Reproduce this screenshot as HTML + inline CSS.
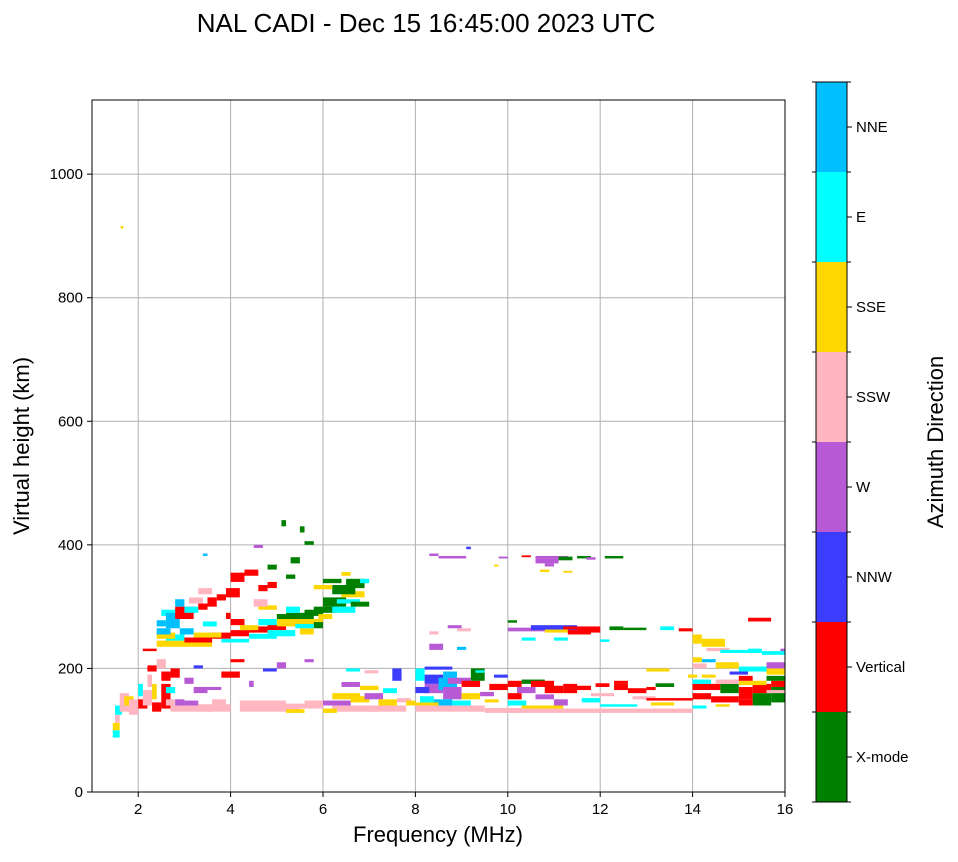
<!DOCTYPE html>
<html><head><meta charset="utf-8">
<style>
body{margin:0;background:#fff;font-family:"Liberation Sans",sans-serif;}
svg text{font-family:"Liberation Sans","DejaVu Sans",sans-serif;}
</style></head>
<body>
<svg id="chart" width="958" height="857" xmlns="http://www.w3.org/2000/svg">
<rect width="958" height="857" fill="#fff"/>
<text x="426" y="32" font-size="26" text-anchor="middle">NAL CADI - Dec 15 16:45:00 2023 UTC</text>
<g id="grid"></g>
<g id="marks"></g>
<rect x="92" y="100" width="693" height="692" fill="none" stroke="#000" stroke-width="1"/>
<g id="ticks"></g>
<text x="438" y="842" font-size="22" text-anchor="middle">Frequency (MHz)</text>
<text transform="translate(29,446) rotate(-90)" font-size="22" text-anchor="middle">Virtual height (km)</text>
<g id="cbar"></g>
<text transform="translate(943,442) rotate(-90)" font-size="22" text-anchor="middle">Azimuth Direction</text>
</svg>
<script>
const dirNames=["X-mode","Vertical","NNW","W","SSW","SSE","E","NNE"];
const dirColors=["#008000","#ff0000","#3c3cff","#b85ad6","#ffb6c1","#ffd700","#00ffff","#00bfff"];
const xTicks=[2,4,6,8,10,12,14,16];
const yTicks=[0,200,400,600,800,1000];
// echoes: [freqStart, freqEnd, heightLow, heightHigh, directionIndex]
const echoes=[
[1.45,1.6,88,100,6],[1.45,1.6,100,112,5],[1.5,1.6,112,125,4],[1.5,1.65,125,140,6],[1.6,1.8,130,160,4],[1.7,1.9,140,155,5],[1.8,2.0,125,150,4],[2.0,2.2,135,150,1],[2.1,2.3,140,165,4],[2.3,2.5,130,145,1],[2.3,2.4,150,175,5],[2.5,2.7,135,175,1],[2.6,2.8,140,150,4],[2.8,3.0,140,150,3],[2.7,2.9,185,200,1],[2.7,3.6,130,140,4],[3.0,3.3,140,148,3],[3.3,4.0,130,142,4],[3.8,4.2,185,195,1],[4.0,4.3,210,215,1],[4.2,4.8,140,148,4],[4.2,5.5,130,140,4],[4.8,5.2,140,148,4],[5.0,6.0,135,143,4],[5.2,5.6,128,134,5],[6.0,6.6,140,148,3],[6.2,7.2,130,140,4],[6.2,6.8,150,160,5],[6.4,6.8,170,178,3],[6.6,7.0,145,155,5],[6.9,7.3,150,160,3],[7.0,7.8,130,140,4],[7.2,7.6,140,150,5],[7.5,7.7,180,200,2],[7.6,7.9,145,152,4],[6.5,6.8,195,200,6],[6.9,7.2,192,197,4],[5.6,5.8,210,215,3],[5.0,5.2,200,210,3],[2.2,2.4,195,205,1],[3.2,3.4,200,205,2],[4.4,4.5,170,180,3],[4.7,5.0,195,200,2],[2.1,2.4,228,232,1],[2.5,2.7,180,195,1],[3.5,3.8,165,170,3],[3.2,3.5,160,170,3],[1.62,1.68,912,916,5],
[2.0,2.1,155,175,6],[2.2,2.3,170,190,4],[2.4,2.6,200,215,4],[2.6,2.8,160,170,6],[3.0,3.2,175,185,3],[3.6,3.9,140,150,4],[5.6,6.0,140,148,4],[6.8,7.2,165,172,5],[7.3,7.6,160,168,6],[6.0,6.3,128,135,5],[7.8,8.0,140,148,5],
[2.4,3.6,235,245,5],[2.6,3.0,245,255,6],[3.0,3.6,242,250,1],[3.6,4.0,248,258,1],[4.0,4.4,252,262,1],[3.8,4.4,242,248,6],[4.4,4.8,258,268,1],[4.4,5.0,248,256,6],[4.8,5.2,262,272,1],[4.8,5.4,252,262,6],[5.0,5.6,268,280,5],[5.2,5.8,280,290,0],[5.6,6.0,285,295,0],[5.6,6.0,270,280,5],[5.8,6.3,290,300,0],[6.0,6.5,300,315,0],[6.2,6.7,290,300,6],[6.4,6.9,315,325,5],[6.2,6.7,320,335,0],[6.5,6.9,330,345,0],[6.3,6.8,305,312,6],[6.0,6.4,338,345,0],[6.4,6.6,350,356,5],[5.8,6.2,328,335,5],[5.5,5.8,255,265,5],[5.8,6.0,265,275,0],
[2.4,2.8,248,258,5],[3.2,3.8,250,258,5],[4.2,4.6,262,270,5],[4.6,5.0,270,280,6],[5.2,5.5,290,300,6],[5.4,5.8,265,272,6],[5.0,5.3,280,288,0],[5.9,6.2,280,288,5],[6.6,7.0,300,308,0],[6.8,7.0,338,345,6],[4.0,4.3,270,280,1],[3.4,3.7,268,276,6],[2.9,3.2,255,265,7],[2.5,2.8,285,295,6],[3.3,3.6,320,330,4],[4.6,5.0,295,302,5],
[2.4,2.7,255,265,7],[2.6,2.9,265,290,7],[2.8,3.2,280,300,1],[3.0,3.3,290,300,6],[3.3,3.5,295,305,1],[3.5,3.7,300,315,1],[3.7,3.9,310,320,1],[3.9,4.2,315,330,1],[4.0,4.3,340,355,1],[4.3,4.6,350,360,1],[4.6,4.8,325,335,1],[4.8,5.0,330,340,1],[4.5,4.8,300,312,4],[4.8,5.0,360,368,0],[5.2,5.4,345,352,0],[5.3,5.5,370,380,0],[5.6,5.8,400,406,0],[5.1,5.2,430,440,0],[5.5,5.6,420,430,0],[4.5,4.7,395,400,3],[3.4,3.5,382,386,7],[2.8,3.0,300,312,7],[2.4,2.6,268,278,7],[3.1,3.4,305,315,4],[3.9,4.0,280,290,1],
[8.0,8.2,180,200,6],[8.2,8.6,160,175,3],[8.2,8.6,175,190,2],[8.5,8.9,165,185,7],[8.6,9.0,150,170,3],[8.1,8.4,140,155,6],[8.4,8.8,140,150,7],[8.7,9.2,175,185,3],[9.0,9.4,170,180,1],[9.0,9.4,150,160,5],[9.2,9.5,180,200,0],[8.2,8.8,198,203,2],[8.0,9.5,130,140,4],[8.0,8.5,140,145,5],[9.3,9.5,193,197,6],[8.3,8.6,230,240,3],[8.9,9.1,230,235,7],[9.6,10.0,165,175,1],[9.5,9.8,145,150,5],[9.5,10.3,128,136,4],
[8.0,8.3,160,170,2],[8.6,8.9,185,195,7],[9.4,9.7,155,162,3],[8.8,9.2,140,148,6],[9.7,10.0,185,190,2],
[8.5,9.1,378,382,3],[8.3,8.5,382,386,3],[9.1,9.2,393,397,2],[8.7,9.0,265,270,3],[8.9,9.2,260,265,4],[8.3,8.5,255,260,4],
[10.0,10.3,170,180,1],[10.3,10.8,175,182,0],[10.5,11.0,170,180,1],[10.8,11.2,160,172,1],[10.2,10.6,160,170,3],[10.0,10.3,150,160,1],[11.2,11.5,160,175,1],[11.4,11.8,165,172,1],[11.9,12.2,170,176,1],[12.3,12.6,165,175,1],[12.6,13.0,160,168,1],[13.0,13.2,165,170,1],[11.0,11.3,140,150,3],[11.6,12.0,145,152,6],[10.0,14.0,128,135,4],[10.3,11.2,135,140,5],[12.0,12.8,138,142,6],[13.1,13.6,140,145,5],[12.7,13.2,150,155,4],
[10.0,10.4,140,148,6],[10.6,11.0,150,158,3],[11.8,12.3,155,160,4],[13.2,13.6,170,176,0],[12.3,12.6,175,180,1],
[10.0,11.8,260,266,3],[10.5,11.5,262,270,2],[11.2,12.0,263,268,1],[10.8,11.3,258,263,5],[11.3,11.8,255,262,1],[12.2,12.5,262,268,0],[12.5,13.0,262,266,0],[10.3,10.6,245,250,6],[11.0,11.3,245,250,6],[12.0,12.2,243,247,6],[13.3,13.6,262,268,6],[10.0,10.2,274,278,0],[11.5,12.0,258,263,1],
[10.6,11.1,370,378,3],[10.6,11.3,378,382,3],[11.1,11.4,375,381,0],[11.5,11.8,378,382,0],[12.1,12.5,378,382,0],[11.7,11.9,376,380,3],[10.8,11.0,365,370,3],[11.2,11.4,355,358,5],[10.3,10.5,380,383,1],[9.8,10.0,378,381,3],[10.7,10.9,356,360,5],[9.7,9.8,365,368,5],
[14.0,14.6,165,175,1],[14.6,15.0,160,175,0],[15.0,15.3,150,170,1],[15.3,15.7,140,160,0],[15.3,15.7,160,175,1],[15.7,16,145,170,0],[15.7,16,170,180,1],[14.0,14.4,150,160,1],[14.4,15.0,145,155,1],[15.0,15.3,140,150,1],[14.0,14.3,200,208,4],[14.0,14.2,210,218,5],[14.2,14.5,210,215,7],[14.5,15.0,205,210,5],[14.5,15.0,200,205,5],[15.0,15.6,195,203,6],[15.6,16,190,200,5],[15.6,16,200,210,3],[14.0,14.2,240,255,5],[14.2,14.7,235,248,5],[14.3,14.8,228,233,4],[14.6,15.2,225,230,6],[15.2,15.5,225,232,6],[15.5,16,222,228,6],[15.9,16,228,232,3],[15.2,15.7,276,282,1],[13.7,14.0,260,265,1],[13.9,14.1,185,190,5],[14.2,14.5,185,190,5],[15.0,15.6,173,180,5],[14.0,14.3,135,140,6],[14.5,14.8,138,142,5],[13.0,13.5,195,200,5],[13.0,14.0,148,152,1],
[14.0,14.4,175,182,6],[14.5,15.0,175,182,4],[15.0,15.3,180,188,1],[15.6,16,180,188,0],[14.8,15.2,190,195,2],[15.6,16,160,165,4]
];
const NS="http://www.w3.org/2000/svg";
const X0=92,X1=785,Y0=792,Y1=100,FMIN=1,FMAX=16,HMIN=0,HMAX=1120;
function xs(f){return X0+(f-FMIN)/(FMAX-FMIN)*(X1-X0);}
function ys(h){return Y0-(h-HMIN)/(HMAX-HMIN)*(Y0-Y1);}
function mk(tag,attrs,parent){const e=document.createElementNS(NS,tag);for(const k in attrs)e.setAttribute(k,attrs[k]);parent.appendChild(e);return e;}
const grid=document.getElementById('grid'),ticks=document.getElementById('ticks'),marks=document.getElementById('marks'),cbar=document.getElementById('cbar');
xTicks.forEach(t=>{
 const x=xs(t);
 const g=mk('line',{x1:x,x2:x,y1:Y1,y2:Y0,stroke:'#b0b0b0','stroke-width':1},grid);
 
 
 mk('line',{x1:x,x2:x,y1:Y0,y2:Y0+5,stroke:'#000'},ticks);
 const l=mk('text',{x:x,y:Y0+22,'font-size':15,'text-anchor':'middle'},ticks);
 l.textContent=t;
 
 
});
yTicks.forEach(t=>{
 const y=ys(t);
 const g=mk('line',{x1:X0,x2:X1,y1:y,y2:y,stroke:'#b0b0b0','stroke-width':1},grid);
 
 
 mk('line',{x1:X0-5,x2:X0,y1:y,y2:y,stroke:'#000'},ticks);
 const l=mk('text',{x:X0-9,y:y+5,'font-size':15,'text-anchor':'end'},ticks);
 l.textContent=t;
 
 
});
echoes.forEach(e=>{
 const x=xs(e[0]),w=xs(e[1])-x,y=ys(e[3]),h=ys(e[2])-y;
 const r=mk('rect',{x:x,y:y,width:Math.max(w,1.5),height:Math.max(h,1.5),fill:dirColors[e[4]]},marks);
 
 
});
const CB0=82,CBH=720,CX=816,CW=31,seg=CBH/dirNames.length;
dirNames.forEach((n,i)=>{
 const y=CB0+CBH-(i+1)*seg;
 const r=mk('rect',{x:CX,y:y,width:CW,height:seg,fill:dirColors[i]},cbar);
 
 
 const ty=y+seg/2;
 mk('line',{x1:CX+CW,x2:CX+CW+5,y1:ty,y2:ty,stroke:'#000'},cbar);
 const l=mk('text',{x:856,y:ty+5,'font-size':15},cbar);
 l.textContent=n;
 
 
});
for(let i=0;i<=dirNames.length;i++){
 const y=CB0+i*seg;
 mk('line',{x1:CX+CW,x2:CX+CW+4,y1:y,y2:y,stroke:'#000'},cbar);
 mk('line',{x1:CX-4,x2:CX,y1:y,y2:y,stroke:'#000'},cbar);
}
mk('rect',{x:CX,y:CB0,width:CW,height:CBH,fill:'none',stroke:'#000'},cbar);
</script>
</body></html>
